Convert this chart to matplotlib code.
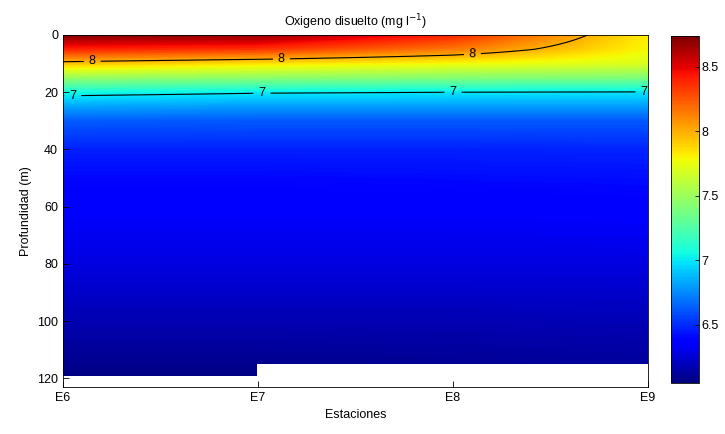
import numpy as np
import matplotlib
matplotlib.use("Agg")
import matplotlib.pyplot as plt

plt.rcParams['font.family'] = ['Liberation Sans Narrow', 'Liberation Sans', 'DejaVu Sans']
plt.rcParams['font.size'] = 9

# Estaciones y perfiles de oxigeno disuelto (mg/l)
stations = ["E6", "E7", "E8", "E9"]
station_x = [0, 1, 2, 3]
depths = [0, 5, 10, 15, 20, 25, 30, 40, 50, 60, 80, 100, 120]
ox_e6 = [8.74, 8.40, 7.94, 7.48, 7.06, 6.82, 6.63, 6.47, 6.40, 6.36, 6.28, 6.17, 6.06]
ox_e7 = [8.70, 8.35, 7.85, 7.45, 7.015, 6.80, 6.62, 6.47, 6.40, 6.36, 6.28, 6.17, 6.06]
ox_e8 = [8.40, 8.15, 7.78, 7.42, 7.00, 6.80, 6.62, 6.47, 6.41, 6.36, 6.28, 6.17, 6.08]
ox_e9 = [7.82, 7.79, 7.70, 7.40, 6.99, 6.80, 6.62, 6.48, 6.42, 6.37, 6.28, 6.18, 6.10]
station_bottom = [119, 115, 115, 115]  # profundidad maxima con datos

profiles = np.array([ox_e6, ox_e7, ox_e8, ox_e9])

# Interpolacion en una malla fina
xf = np.linspace(0, 3, 301)
zf = np.linspace(0, 123, 493)
tmp = np.array([np.interp(zf, depths, p) for p in profiles])  # (4, nz)
grid = np.array([np.interp(xf, station_x, tmp[:, k]) for k in range(len(zf))])  # (nz, nx)

idx = np.clip(np.floor(xf + 1e-9).astype(int), 0, 3)
bottom = np.array(station_bottom)[idx]
mask = zf[:, None] > bottom[None, :]
grid_m = np.ma.masked_array(grid, mask)

fig = plt.figure(figsize=(7.25, 4.34), dpi=100)
ax = fig.add_axes([0.0869, 0.1083, 0.8069, 0.8111])
cax = fig.add_axes([0.9255, 0.118, 0.0386, 0.799])

vmin, vmax = 6.05, 8.74
pc = ax.pcolormesh(xf, zf, grid_m, cmap='jet', vmin=vmin, vmax=vmax, shading='nearest')

cs = ax.contour(xf, zf, grid, levels=[7, 8], colors='black', linewidths=0.8)
ax.clabel(cs, fmt='%g', fontsize=9, inline=True,
          manual=[(0.15, 9), (1.12, 8.5), (2.1, 7.0),
                  (0.05, 21), (1.02, 20.3), (2.0, 20), (2.98, 20)])

ax.set_xlim(0, 3)
ax.set_ylim(123, 0)
ax.set_xticks(station_x)
ax.set_xticklabels(stations)
ax.set_yticks(np.arange(0, 121, 20))
ax.tick_params(direction='in', length=4, width=0.6)
for s in ax.spines.values():
    s.set_linewidth(0.6)
ax.set_xlabel("Estaciones")
ax.set_ylabel("Profundidad (m)")
ax.set_title("Oxigeno disuelto (mg l$^{-1}$)", fontsize=9)

cb = fig.colorbar(pc, cax=cax, ticks=[6.5, 7, 7.5, 8, 8.5])
cb.ax.tick_params(direction='in', length=3, width=0.6, pad=2)
cb.ax.set_yticklabels(['6.5', '7', '7.5', '8', '8.5'])
cb.outline.set_linewidth(0.6)

fig.savefig("out.png", dpi=100)
